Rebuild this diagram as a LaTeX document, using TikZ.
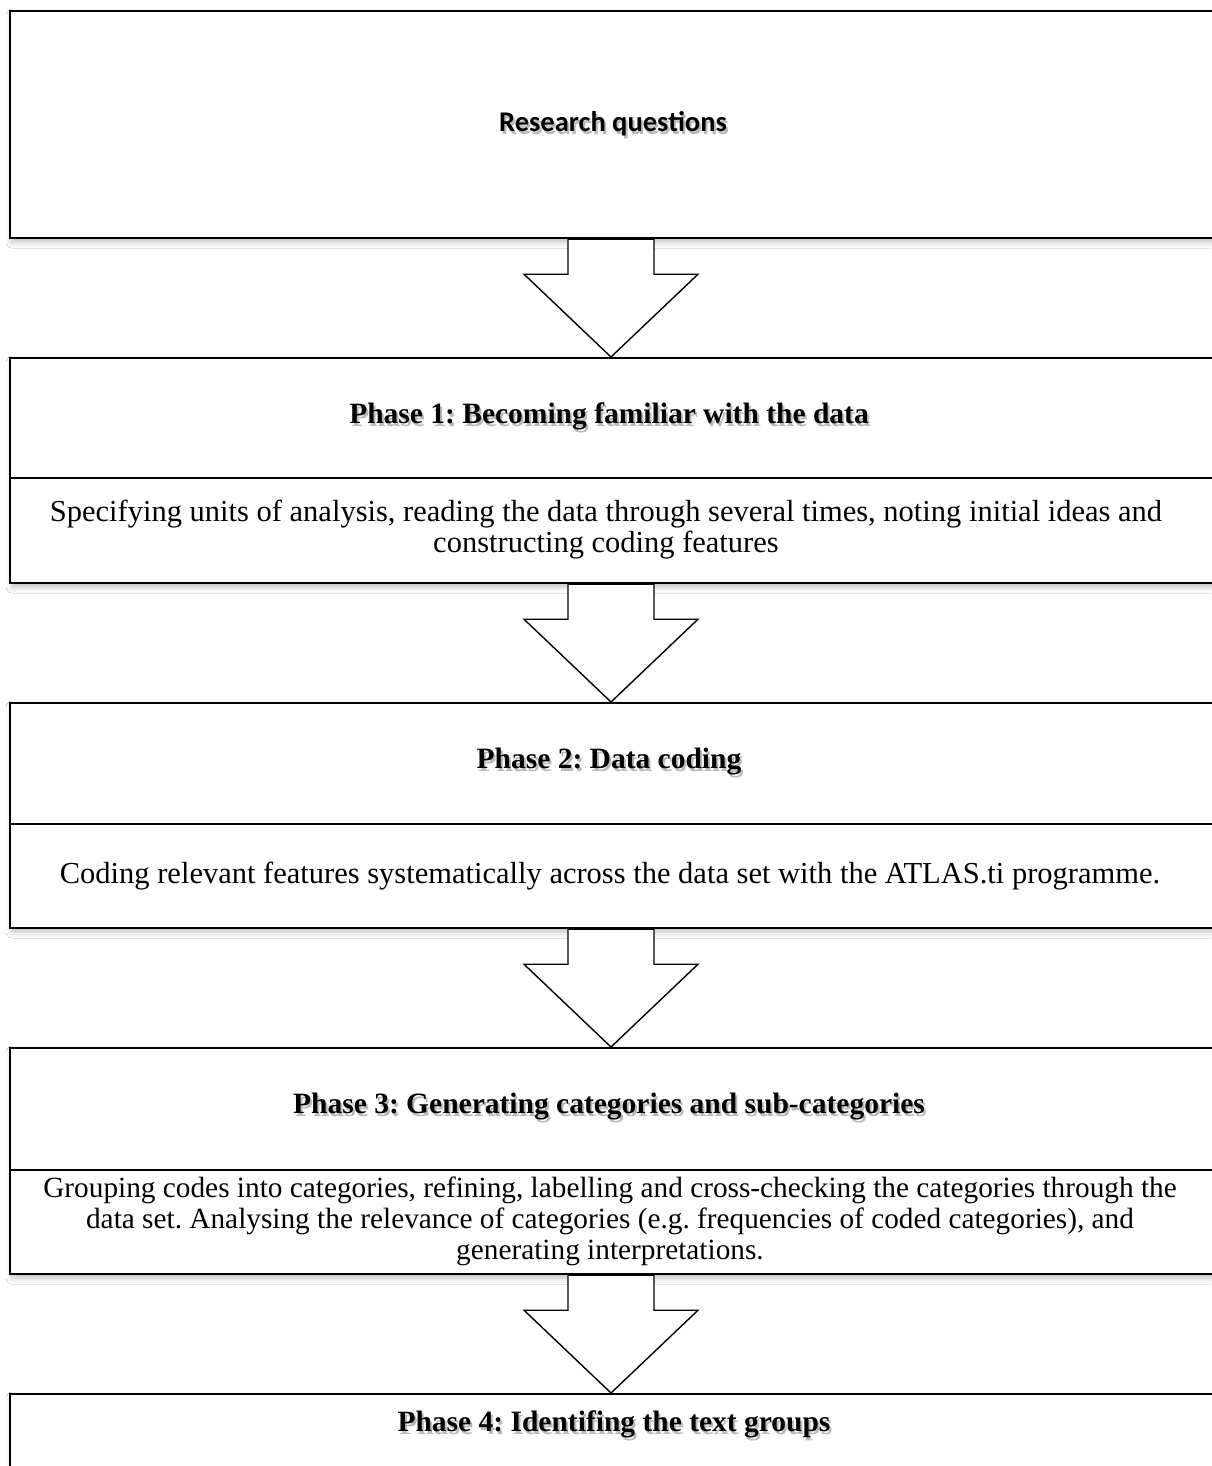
\documentclass[tikz,border=0pt]{standalone}
\usepackage{fontspec}
\setmainfont{Liberation Serif}
\newfontfamily\calibrifont{Carlito}
\usetikzlibrary{calc,shadows.blur}
\frenchspacing
\tikzset{
  boxframe/.style={draw=black, line width=2.2pt, fill=white, anchor=north west,
    minimum width=1221pt, inner sep=0pt,
    blur shadow={shadow xshift=2pt, shadow yshift=-4pt, shadow blur radius=6pt, shadow opacity=25}},
  divider/.style={draw=black, line width=1.4pt},
  blockarrow/.style={draw=black, line width=1.4pt, fill=white, line join=miter},
  titletext/.style={font=\fontsize{29.5}{31}\selectfont\bfseries, inner sep=0pt},
  rqtext/.style={font=\calibrifont\fontsize{28.5}{31}\selectfont\bfseries, inner sep=0pt},
  bodytext/.style={font=\fontsize{30.5}{31}\selectfont, align=center, inner sep=0pt},
  smallbodytext/.style={font=\fontsize{29.3}{31}\selectfont, align=center, inner sep=0pt},
  shadowtext/.style={text=black!45, opacity=0.6},
}
\newcommand{\shadowed}[4]{% name, style, position, text
  \node[#2, shadowtext] at ($(#3)+(2,3)$) {#4};
  \node[#2] (#1) at (#3) {#4};
}
\newcommand{\myblockarrow}[2]{% top-centre coordinate, tip coordinate
  \draw[blockarrow] ($(#1)+(-43,0)$) -- ++(0,35) -- ++(-44,0) -- (#2)
     -- ($(#1)+(87,35)$) -- ++(-44,0) -- ++(0,-35) -- cycle;
}
\begin{document}
\begin{tikzpicture}[x=1pt, y=-1pt]
\useasboundingbox (0,0) rectangle (1211,1466);
\fill[white] (0,0) rectangle (1211,1466);

% boxes
\node[boxframe, minimum height=227pt] (b0) at (9,10) {};
\node[boxframe, minimum height=225pt] (b1) at (9,357) {};
\node[boxframe, minimum height=225pt] (b2) at (9,702) {};
\node[boxframe, minimum height=226pt] (b3) at (9,1047) {};
\node[boxframe, minimum height=100pt] (b4) at (9,1393) {};

% dividers
\coordinate (d1l) at (9,478);  \coordinate (d1r) at (1230,478);
\coordinate (d2l) at (9,824);  \coordinate (d2r) at (1230,824);
\coordinate (d3l) at (9,1170); \coordinate (d3r) at (1230,1170);
\draw[divider] (d1l) -- (d1r);
\draw[divider] (d2l) -- (d2r);
\draw[divider] (d3l) -- (d3r);

% arrows
\coordinate (a1s) at (b0.south -| 611,0); \coordinate (a1t) at (b1.north -| 611,0);
\coordinate (a2s) at (b1.south -| 611,0); \coordinate (a2t) at (b2.north -| 611,0);
\coordinate (a3s) at (b2.south -| 611,0); \coordinate (a3t) at (b3.north -| 611,0);
\coordinate (a4s) at (b3.south -| 611,0); \coordinate (a4t) at (b4.north -| 611,0);
\myblockarrow{a1s}{a1t}
\myblockarrow{a2s}{a2t}
\myblockarrow{a3s}{a3t}
\myblockarrow{a4s}{a4t}

% texts
\coordinate (p0) at (613,124);
\shadowed{t0}{rqtext}{p0}{Research questions}
\coordinate (p1) at (609,416);
\shadowed{t1}{titletext}{p1}{Phase 1: Becoming familiar with the data}
\coordinate (p2) at (609,762);
\shadowed{t2}{titletext}{p2}{Phase 2: Data coding}
\coordinate (p3) at (609,1107);
\shadowed{t3}{titletext}{p3}{Phase 3: Generating categories and sub-categories}
\coordinate (p4) at (614,1424);
\shadowed{t4}{titletext}{p4}{Phase 4: Identifing the text groups}

\node[bodytext] (s1) at (606,530) {Specifying units of analysis, reading the data through several times, noting initial ideas and\\constructing coding features};
\node[bodytext] (s2) at (610,876) {Coding relevant features systematically across the data set with the ATLAS.ti programme.};
\node[smallbodytext] (s3) at (610,1221) {Grouping codes into categories, refining, labelling and cross-checking the categories through the\\data set. Analysing the relevance of categories (e.g. frequencies of coded categories), and\\generating interpretations.};
\end{tikzpicture}
\end{document}
